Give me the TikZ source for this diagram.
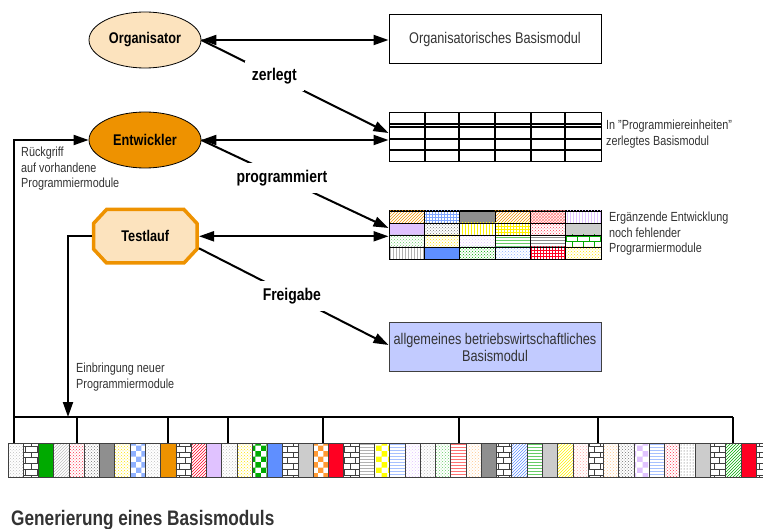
\documentclass[tikz,border=0pt]{standalone}
\usepackage{fontspec}
\setmainfont{Liberation Sans}[FakeStretch=0.82]
\usetikzlibrary{shapes.geometric,patterns,arrows.meta}

\definecolor{peach}{HTML}{FCE3BE}
\definecolor{amber}{HTML}{EE9200}
\definecolor{modblue}{HTML}{C2CBFF}
\definecolor{midgray}{HTML}{8F8F8F}
\definecolor{palegray}{HTML}{CCCCCC}
\definecolor{leaf}{HTML}{00AA00}
\definecolor{signal}{HTML}{FF0022}
\definecolor{sky}{HTML}{5F8FFF}
\definecolor{lilac}{HTML}{E0C2FF}
\definecolor{textgray}{HTML}{333333}

\begin{document}
\begin{tikzpicture}[
  x=1pt,y=-1pt,
  >={Triangle[length=15pt,width=10pt]},
  actor/.style={ellipse,draw=black,line width=0.8pt,minimum width=112pt,minimum height=56pt,
    font=\fontsize{15.5}{18}\selectfont\bfseries},
  module/.style={rectangle,draw=black,line width=1pt,minimum width=212pt,minimum height=49pt,
    inner sep=0pt,text=textgray,font=\fontsize{15.5}{17}\selectfont},
  note/.style={anchor=north west,align=left,inner sep=0pt,text=textgray,
    font=\fontsize{13.2}{15.3}\selectfont},
  verb/.style={fill=white,inner sep=7pt,font=\fontsize{17}{19}\selectfont\bfseries},
  flow/.style={line width=2pt},
  bus/.style={line width=2.6pt},
  cell/.style={draw=black!75,line width=0.9pt},
  dotlight/.style={pattern=crosshatch dots,pattern color=black!25},
  dotgray/.style={pattern=crosshatch dots,pattern color=black!55},
  dotred/.style={pattern=crosshatch dots,pattern color=signal!80},
  dotpink/.style={pattern=crosshatch dots,pattern color=red!35},
  dotyellow/.style={pattern=crosshatch dots,pattern color=yellow!80!orange},
  dotorange/.style={pattern=crosshatch dots,pattern color=orange!45},
  dotlilac/.style={pattern=crosshatch dots,pattern color=lilac},
  dotgreen/.style={pattern=crosshatch dots,pattern color=leaf!60},
  dotgreendark/.style={pattern=crosshatch dots,pattern color=leaf},
  dotblue/.style={pattern=crosshatch dots,pattern color=sky!70},
  dotsparse/.style={pattern=dots,pattern color=black!70},
  brickdark/.style={pattern=bricks,pattern color=black!75},
  brickgreen/.style={pattern=bricks,pattern color=leaf},
  hatchgray/.style={pattern=north east lines,pattern color=black!25},
  hatchred/.style={pattern=north east lines,pattern color=signal},
  hatchblue/.style={pattern=north east lines,pattern color=sky},
  hatchyellow/.style={pattern=north east lines,pattern color=yellow!90!orange},
  hatchgreen/.style={pattern=north east lines,pattern color=leaf},
  hatchorange/.style={pattern=north east lines,pattern color=amber},
  checkblue/.style={pattern=checkerboard,pattern color=sky!70},
  checkgreen/.style={pattern=checkerboard,pattern color=leaf},
  checkorange/.style={pattern=checkerboard,pattern color=orange!80},
  checkyellow/.style={pattern=checkerboard,pattern color=yellow},
  checklilac/.style={pattern=checkerboard,pattern color=lilac},
  dashgray/.style={pattern=horizontal lines,pattern color=black!30},
  dashblue/.style={pattern=horizontal lines,pattern color=sky!55},
  dashred/.style={pattern=horizontal lines,pattern color=red!55},
  dashgreen/.style={pattern=horizontal lines,pattern color=leaf!60},
  hlinegray/.style={pattern=horizontal lines,pattern color=black!45},
  vlinegray/.style={pattern=vertical lines,pattern color=black!30},
  vlinelilac/.style={pattern=vertical lines,pattern color=lilac},
  vlineyellow/.style={pattern=vertical lines,pattern color=yellow!90!orange},
  gridblue/.style={pattern=grid,pattern color=sky!80},
  gridyellow/.style={pattern=grid,pattern color=yellow!90!orange},
  gridred/.style={pattern=grid,pattern color=signal},
  crossred/.style={pattern=crosshatch,pattern color=red!50},
  solidgray/.style={fill=midgray},
  solidpale/.style={fill=palegray},
  solidgreen/.style={fill=leaf},
  solidorange/.style={fill=amber},
  solidlilac/.style={fill=lilac},
  solidblue/.style={fill=sky},
  solidred/.style={fill=signal}
]
\useasboundingbox (0,0) rectangle (763,529);
\clip (0,0) rectangle (763,529);

% akteure
\node[actor,fill=peach] (orga) at (145,40) {Organisator};
\node[actor,fill=amber] (entw) at (145,140) {Entwickler};
\draw[amber,line width=3.5pt,fill=peach,line join=miter]
  (106.5,209.5) -- (184,209.5) -- (197,223.5) -- (197,249) -- (184,263)
  -- (106.5,263) -- (93.5,249) -- (93.5,223.5) -- cycle;
\node[rectangle,minimum width=107pt,minimum height=57pt,
  font=\fontsize{15.5}{18}\selectfont\bfseries] (test) at (145.3,236.3) {Testlauf};

% module
\node[module] (modorg) at (495,39.5) {Organisatorisches Basismodul};
\node[module] (grid) at (495,137.5) {};
\node[module] (patgrid) at (495,235) {};
\node[module,fill=modblue,draw=black!75,align=center] (modall) at (495,347)
  {allgemeines betriebswirtschaftliches\\Basismodul};

\foreach \st [count=\i from 0] in {hatchorange,gridblue,solidgray,hatchorange,crossred,vlinelilac,
  solidlilac,dotgray,vlineyellow,gridyellow,dotred,solidpale,
  dotgreen,dotyellow,dotlilac,dashgreen,hlinegray,brickgreen,
  vlinegray,solidblue,dotgreendark,dotblue,gridred,dotyellow}
{
  \pgfmathtruncatemacro\col{mod(\i,6)}
  \pgfmathtruncatemacro\rw{div(\i,6)}
  \draw[cell,draw=black,\st] ({389+\col*35.33},{211+\rw*12}) rectangle +(35.33,12);
}

\foreach \y in {124,127,139,150} \draw[line width=1.4pt] (389,\y) -- (601,\y);
\foreach \x in {425,459.3,495,530.7,565} \draw[line width=1.8pt] (\x,113) -- (\x,162);

\node[note] (txtgrid) at (606,120) {In "Programmiereinheiten"\\zerlegtes Basismodul};
\node[note] (txtpat) at (609,212) {Ergänzende Entwicklung\\noch fehlender\\Prograrmiermodule};

% beziehungen
\draw[flow,<->] (orga.east) -- (orga.east -| modorg.west);
\draw[flow,<->] (entw.east) -- (entw.east -| grid.west);
\draw[flow,<->] (test.east) -- (test.east -| patgrid.west);
\draw[flow,->] (orga.east) -- node[pos=0.39,verb] {zerlegt} ([yshift=4.5pt]grid.west);
\draw[flow,->] (entw.east) -- node[pos=0.43,verb] {programmiert} ([yshift=7pt]patgrid.west);
\draw[flow,->] ([yshift=-12pt]test.east) -- node[pos=0.49,verb] {Freigabe} ([yshift=2pt]modall.west);

% baustein-leiste
\foreach \st [count=\i from 0] in {dotlight,brickdark,solidgreen,hatchgray,dotred,dotgray,solidgray,
  dotyellow,checkblue,dotlight,solidorange,brickdark,hatchred,solidlilac,dotlight,dotyellow,
  checkgreen,solidblue,brickdark,solidpale,checkorange,solidred,brickdark,dashgray,checkyellow,
  dashblue,dotlilac,dotlight,dotgreen,dashred,dotorange,solidgray,brickdark,hatchblue,dashgreen,
  solidpale,hatchyellow,dotpink,brickdark,dotorange,dotgray,checklilac,dashblue,dotred,dotsparse,
  solidpale,brickdark,hatchgreen,solidred,brickdark}
  \draw[cell,\st] ({8+\i*15.27},443) rectangle +(15.27,34);

\coordinate (rueck) at (14,443);
\coordinate (busL) at (14,417);
\coordinate (busR) at (733,417);
\coordinate (einb) at (68,417);
\draw[bus] (busL) -- (busR);
\foreach \x in {77,168,228,323,459,598,733} \draw[line width=2.2pt] (\x,417) -- (\x,443);

\draw[flow,->] (rueck) |- (entw.west);
\draw[flow,->] (test.west) -| (einb);

\node[note] (txtrueck) at (21,147) {Rückgriff\\auf vorhandene\\Programmiermodule};
\node[note] (txteinb) at (76,363) {Einbringung neuer\\Programmiermodule};

\node[anchor=base west,inner sep=0pt,text=textgray,font=\fontsize{21}{24}\selectfont\bfseries]
  (title) at (11,525) {Generierung eines Basismoduls};
\end{tikzpicture}
\end{document}
